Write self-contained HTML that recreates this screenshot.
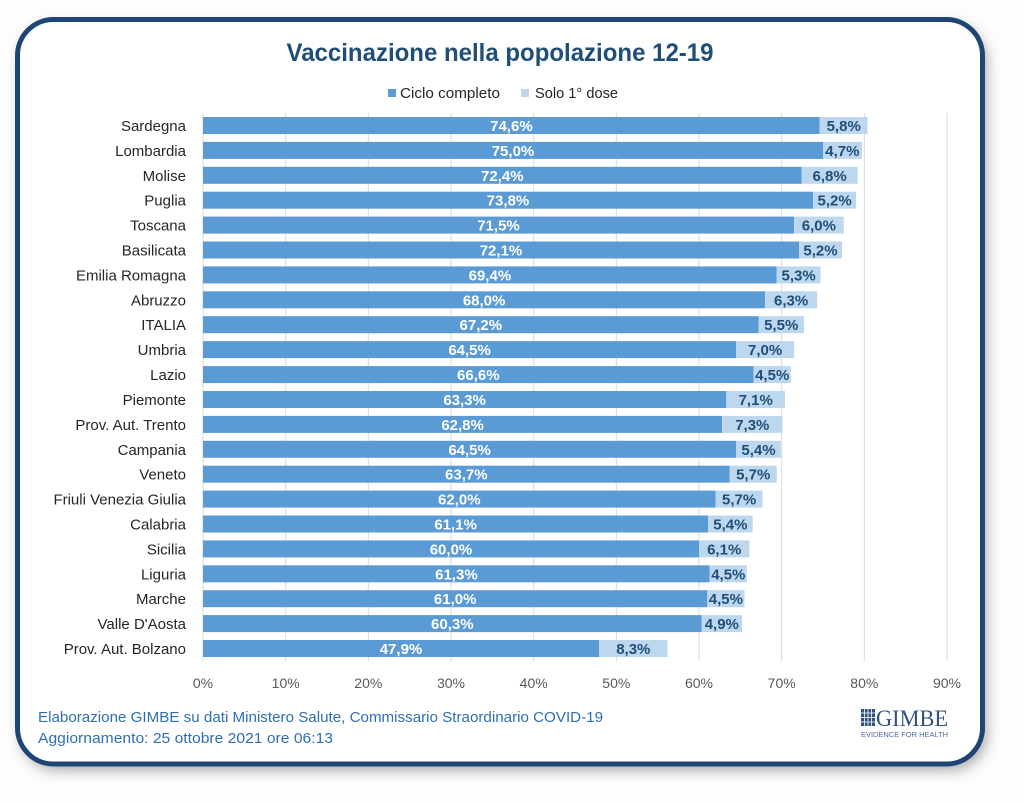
<!DOCTYPE html>
<html><head><meta charset="utf-8"><style>
html,body{margin:0;padding:0;background:#fff;}
svg{display:block;}
text{font-family:"Liberation Sans",sans-serif;}
</style></head><body>
<svg width="1024" height="803" viewBox="0 0 1024 803" xmlns="http://www.w3.org/2000/svg">
<defs>
<filter id="sh" x="-10%" y="-10%" width="120%" height="120%">
<feDropShadow dx="4" dy="6" stdDeviation="7" flood-color="#000" flood-opacity="0.35"/>
</filter>
</defs>
<rect x="0" y="0" width="1024" height="803" fill="#fdfdfd"/>
<rect x="17.5" y="19.5" width="965" height="744.5" rx="36" ry="36" fill="#fff" filter="url(#sh)"/>
<rect x="17.5" y="19.5" width="965" height="744.5" rx="36" ry="36" fill="#fff" stroke="#1d4674" stroke-width="5"/>

<text x="500" y="61" text-anchor="middle" font-size="25" font-weight="bold" fill="#1f4e79" textLength="427" lengthAdjust="spacingAndGlyphs">Vaccinazione nella popolazione 12-19</text>

<rect x="388" y="89" width="8" height="8" fill="#5b9bd5"/>
<text x="400" y="98" font-size="14.5" fill="#262626" textLength="100" lengthAdjust="spacingAndGlyphs">Ciclo completo</text>
<rect x="521" y="89" width="8" height="8" fill="#bdd7ee"/>
<text x="535" y="98" font-size="14.5" fill="#262626" textLength="83" lengthAdjust="spacingAndGlyphs">Solo 1° dose</text>

<g stroke="#d9d9d9" stroke-width="1">
<line x1="203" y1="113" x2="203" y2="661"/>
<line x1="285.7" y1="113" x2="285.7" y2="661"/>
<line x1="368.3" y1="113" x2="368.3" y2="661"/>
<line x1="451" y1="113" x2="451" y2="661"/>
<line x1="533.7" y1="113" x2="533.7" y2="661"/>
<line x1="616.3" y1="113" x2="616.3" y2="661"/>
<line x1="699" y1="113" x2="699" y2="661"/>
<line x1="781.7" y1="113" x2="781.7" y2="661"/>
<line x1="864.3" y1="113" x2="864.3" y2="661"/>
<line x1="947" y1="113" x2="947" y2="661"/>
</g>

<g font-size="14" fill="#595959" text-anchor="middle">
<text x="203" y="688">0%</text>
<text x="285.7" y="688">10%</text>
<text x="368.3" y="688">20%</text>
<text x="451" y="688">30%</text>
<text x="533.7" y="688">40%</text>
<text x="616.3" y="688">50%</text>
<text x="699" y="688">60%</text>
<text x="781.7" y="688">70%</text>
<text x="864.3" y="688">80%</text>
<text x="947" y="688">90%</text>
</g>

<!-- bars -->
<g>
<rect x="203" y="117.0" width="616.7" height="17" fill="#5b9bd5"/><rect x="819.7" y="117.0" width="47.9" height="17" fill="#bdd7ee"/>
<rect x="203" y="141.9" width="620.0" height="17" fill="#5b9bd5"/><rect x="823.0" y="141.9" width="38.9" height="17" fill="#bdd7ee"/>
<rect x="203" y="166.8" width="598.5" height="17" fill="#5b9bd5"/><rect x="801.5" y="166.8" width="56.2" height="17" fill="#bdd7ee"/>
<rect x="203" y="191.7" width="610.1" height="17" fill="#5b9bd5"/><rect x="813.1" y="191.7" width="43.0" height="17" fill="#bdd7ee"/>
<rect x="203" y="216.6" width="591.1" height="17" fill="#5b9bd5"/><rect x="794.1" y="216.6" width="49.6" height="17" fill="#bdd7ee"/>
<rect x="203" y="241.5" width="596.0" height="17" fill="#5b9bd5"/><rect x="799.0" y="241.5" width="43.0" height="17" fill="#bdd7ee"/>
<rect x="203" y="266.4" width="573.7" height="17" fill="#5b9bd5"/><rect x="776.7" y="266.4" width="43.8" height="17" fill="#bdd7ee"/>
<rect x="203" y="291.3" width="562.1" height="17" fill="#5b9bd5"/><rect x="765.1" y="291.3" width="52.1" height="17" fill="#bdd7ee"/>
<rect x="203" y="316.2" width="555.5" height="17" fill="#5b9bd5"/><rect x="758.5" y="316.2" width="45.5" height="17" fill="#bdd7ee"/>
<rect x="203" y="341.1" width="533.2" height="17" fill="#5b9bd5"/><rect x="736.2" y="341.1" width="57.9" height="17" fill="#bdd7ee"/>
<rect x="203" y="366.1" width="550.6" height="17" fill="#5b9bd5"/><rect x="753.6" y="366.1" width="37.2" height="17" fill="#bdd7ee"/>
<rect x="203" y="391.0" width="523.3" height="17" fill="#5b9bd5"/><rect x="726.3" y="391.0" width="58.7" height="17" fill="#bdd7ee"/>
<rect x="203" y="415.9" width="519.1" height="17" fill="#5b9bd5"/><rect x="722.1" y="415.9" width="60.3" height="17" fill="#bdd7ee"/>
<rect x="203" y="440.8" width="533.2" height="17" fill="#5b9bd5"/><rect x="736.2" y="440.8" width="44.6" height="17" fill="#bdd7ee"/>
<rect x="203" y="465.7" width="526.6" height="17" fill="#5b9bd5"/><rect x="729.6" y="465.7" width="47.1" height="17" fill="#bdd7ee"/>
<rect x="203" y="490.6" width="512.5" height="17" fill="#5b9bd5"/><rect x="715.5" y="490.6" width="47.1" height="17" fill="#bdd7ee"/>
<rect x="203" y="515.5" width="505.1" height="17" fill="#5b9bd5"/><rect x="708.1" y="515.5" width="44.6" height="17" fill="#bdd7ee"/>
<rect x="203" y="540.4" width="496.0" height="17" fill="#5b9bd5"/><rect x="699.0" y="540.4" width="50.4" height="17" fill="#bdd7ee"/>
<rect x="203" y="565.3" width="506.7" height="17" fill="#5b9bd5"/><rect x="709.7" y="565.3" width="37.2" height="17" fill="#bdd7ee"/>
<rect x="203" y="590.2" width="504.3" height="17" fill="#5b9bd5"/><rect x="707.3" y="590.2" width="37.2" height="17" fill="#bdd7ee"/>
<rect x="203" y="615.1" width="498.5" height="17" fill="#5b9bd5"/><rect x="701.5" y="615.1" width="40.5" height="17" fill="#bdd7ee"/>
<rect x="203" y="640.0" width="396.0" height="17" fill="#5b9bd5"/><rect x="599.0" y="640.0" width="68.6" height="17" fill="#bdd7ee"/>
</g>

<!-- category labels -->
<g font-size="15" fill="#262626" text-anchor="end">
<text x="186" y="131.0">Sardegna</text>
<text x="186" y="155.9">Lombardia</text>
<text x="186" y="180.8">Molise</text>
<text x="186" y="205.7">Puglia</text>
<text x="186" y="230.6">Toscana</text>
<text x="186" y="255.5">Basilicata</text>
<text x="186" y="280.4">Emilia Romagna</text>
<text x="186" y="305.3">Abruzzo</text>
<text x="186" y="330.2">ITALIA</text>
<text x="186" y="355.1">Umbria</text>
<text x="186" y="380.1">Lazio</text>
<text x="186" y="405.0">Piemonte</text>
<text x="186" y="429.9">Prov. Aut. Trento</text>
<text x="186" y="454.8">Campania</text>
<text x="186" y="479.7">Veneto</text>
<text x="186" y="504.6">Friuli Venezia Giulia</text>
<text x="186" y="529.5">Calabria</text>
<text x="186" y="554.4">Sicilia</text>
<text x="186" y="579.3">Liguria</text>
<text x="186" y="604.2">Marche</text>
<text x="186" y="629.1">Valle D'Aosta</text>
<text x="186" y="654.0">Prov. Aut. Bolzano</text>
</g>

<!-- dark labels -->
<g font-size="15" font-weight="bold" fill="#ffffff" text-anchor="middle">
<text x="511.4" y="131.0">74,6%</text>
<text x="513.0" y="155.9">75,0%</text>
<text x="502.3" y="180.8">72,4%</text>
<text x="508.0" y="205.7">73,8%</text>
<text x="498.5" y="230.6">71,5%</text>
<text x="501.0" y="255.5">72,1%</text>
<text x="489.9" y="280.4">69,4%</text>
<text x="484.1" y="305.3">68,0%</text>
<text x="480.8" y="330.2">67,2%</text>
<text x="469.6" y="355.1">64,5%</text>
<text x="478.3" y="380.1">66,6%</text>
<text x="464.6" y="405.0">63,3%</text>
<text x="462.6" y="429.9">62,8%</text>
<text x="469.6" y="454.8">64,5%</text>
<text x="466.3" y="479.7">63,7%</text>
<text x="459.3" y="504.6">62,0%</text>
<text x="455.6" y="529.5">61,1%</text>
<text x="451.0" y="554.4">60,0%</text>
<text x="456.4" y="579.3">61,3%</text>
<text x="455.2" y="604.2">61,0%</text>
<text x="452.3" y="629.1">60,3%</text>
<text x="401.0" y="654.0">47,9%</text>
</g>

<!-- light labels -->
<g font-size="15" font-weight="bold" fill="#1f4e79" text-anchor="middle">
<text x="843.7" y="131.0">5,8%</text>
<text x="842.4" y="155.9">4,7%</text>
<text x="829.6" y="180.8">6,8%</text>
<text x="834.6" y="205.7">5,2%</text>
<text x="818.9" y="230.6">6,0%</text>
<text x="820.5" y="255.5">5,2%</text>
<text x="798.6" y="280.4">5,3%</text>
<text x="791.1" y="305.3">6,3%</text>
<text x="781.2" y="330.2">5,5%</text>
<text x="765.1" y="355.1">7,0%</text>
<text x="772.2" y="380.1">4,5%</text>
<text x="755.7" y="405.0">7,1%</text>
<text x="752.3" y="429.9">7,3%</text>
<text x="758.5" y="454.8">5,4%</text>
<text x="753.2" y="479.7">5,7%</text>
<text x="739.1" y="504.6">5,7%</text>
<text x="730.4" y="529.5">5,4%</text>
<text x="724.2" y="554.4">6,1%</text>
<text x="728.3" y="579.3">4,5%</text>
<text x="725.9" y="604.2">4,5%</text>
<text x="721.8" y="629.1">4,9%</text>
<text x="633.3" y="654.0">8,3%</text>
</g>

<!-- footer -->
<text x="38" y="722" font-size="15" fill="#2e6fb4" textLength="565" lengthAdjust="spacingAndGlyphs">Elaborazione GIMBE su dati Ministero Salute, Commissario Straordinario COVID-19</text>
<text x="38" y="743" font-size="15" fill="#2e6fb4" textLength="295" lengthAdjust="spacingAndGlyphs">Aggiornamento: 25 ottobre 2021 ore 06:13</text>

<!-- logo -->
<g>
<rect x="861" y="709" width="14" height="17" fill="#2f5283"/>
<g stroke="#ffffff" stroke-width="0.8">
<line x1="864.5" y1="709" x2="864.5" y2="726"/>
<line x1="868" y1="709" x2="868" y2="726"/>
<line x1="871.5" y1="709" x2="871.5" y2="726"/>
<line x1="861" y1="713" x2="875" y2="713"/>
<line x1="861" y1="717.5" x2="875" y2="717.5"/>
<line x1="861" y1="722" x2="875" y2="722"/>
</g>
<text x="876" y="726" font-family="Liberation Serif, serif" font-size="23" fill="#2f5283" textLength="72" lengthAdjust="spacingAndGlyphs" style="font-family:'Liberation Serif',serif">GIMBE</text>
<text x="861" y="737" font-size="7" fill="#4b6f9f" textLength="87" lengthAdjust="spacingAndGlyphs">EVIDENCE FOR HEALTH</text>
</g>
</svg>
</body></html>
